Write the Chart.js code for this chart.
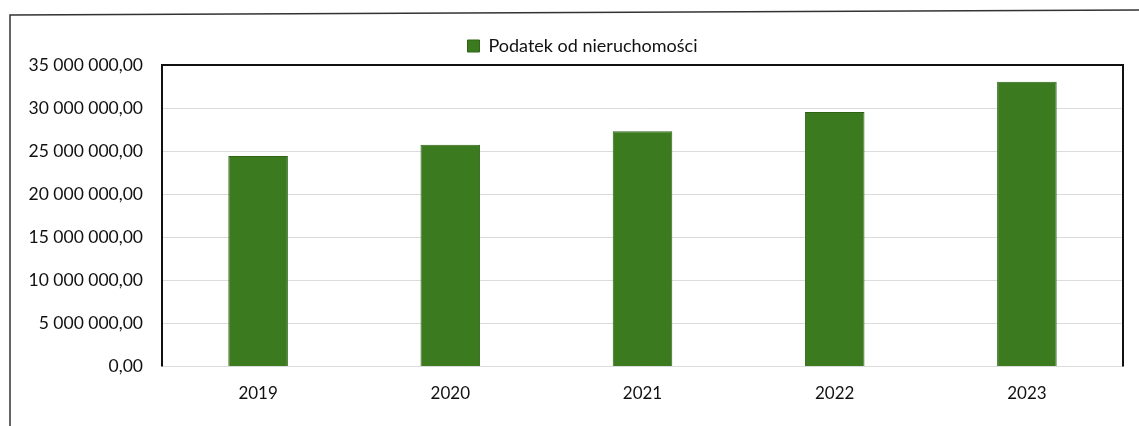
<!DOCTYPE html>
<html>
<head>
<meta charset="utf-8">
<script src="https://cdn.jsdelivr.net/npm/chart.js@4.4.1/dist/chart.umd.min.js"></script>
<style>
  html, body { margin: 0; padding: 0; background: #fff; }
  #wrap { position: relative; width: 1139px; height: 426px; }
</style>
</head>
<body>
<div id="wrap"><canvas id="bar-chart" width="1139" height="426"></canvas></div>
<script>
const years = ['2019', '2020', '2021', '2022', '2023'];
const taxValues = [24450000, 25750000, 27300000, 29550000, 33050000];
const seriesLabel = 'Podatek od nieruchomości';
const yMax = 35000000;
const yStep = 5000000;

const green = '#3b7a1f';

function plMoney(v) {
  const s = Math.round(v).toString().replace(/\B(?=(\d{3})+(?!\d))/g, ' ');
  return s + ',00';
}

// outer frame of the scanned page + black plot border
const frames = {
  id: 'frames',
  beforeDraw(chart) {
    // legend sits a bit right of the canvas centre in the original
    chart.legend.left += 21;
    chart.legend.right += 21;
  },
  afterDraw(chart) {
    const ctx = chart.ctx;
    const a = chart.chartArea;
    ctx.save();
    ctx.strokeStyle = '#333';
    ctx.lineWidth = 1.5;
    ctx.beginPath();
    ctx.moveTo(10, 426);
    ctx.lineTo(10, 15);
    ctx.lineTo(1139, 10);
    ctx.stroke();
    ctx.strokeStyle = '#111';
    ctx.lineWidth = 2;
    ctx.beginPath();
    ctx.moveTo(a.left, a.bottom);
    ctx.lineTo(a.left, a.top);
    ctx.lineTo(a.right, a.top);
    ctx.lineTo(a.right, a.bottom);
    ctx.stroke();
    ctx.restore();
  }
};

new Chart(document.getElementById('bar-chart'), {
  type: 'bar',
  data: {
    labels: years,
    datasets: [{
      label: seriesLabel,
      data: taxValues,
      backgroundColor: green,
      borderColor: '#2f6416',
      borderWidth: 1,
      categoryPercentage: 1,
      barPercentage: 0.31
    }]
  },
  options: {
    responsive: false,
    animation: false,
    layout: { padding: { top: 29, right: 16, bottom: 5, left: 0 } },
    font: { family: 'Lato' },
    scales: {
      y: {
        min: 0,
        max: yMax,
        afterFit(scale) { scale.width = 162; },
        ticks: {
          stepSize: yStep,
          padding: 19,
          color: '#111',
          font: { family: 'Lato', size: 17.5 },
          callback: v => plMoney(v)
        },
        grid: { color: '#dcdcdc', drawTicks: false },
        border: { display: false }
      },
      x: {
        ticks: {
          padding: 17,
          color: '#111',
          font: { family: 'Lato', size: 17 }
        },
        grid: { display: false, drawTicks: false },
        border: { display: false }
      }
    },
    plugins: {
      legend: {
        display: true,
        position: 'top',
        labels: {
          boxWidth: 12,
          boxHeight: 12,
          color: '#111',
          font: { family: 'Lato', size: 18 },
          padding: 8
        }
      },
      tooltip: { enabled: false }
    }
  },
  plugins: [frames]
});
</script>
</body>
</html>
